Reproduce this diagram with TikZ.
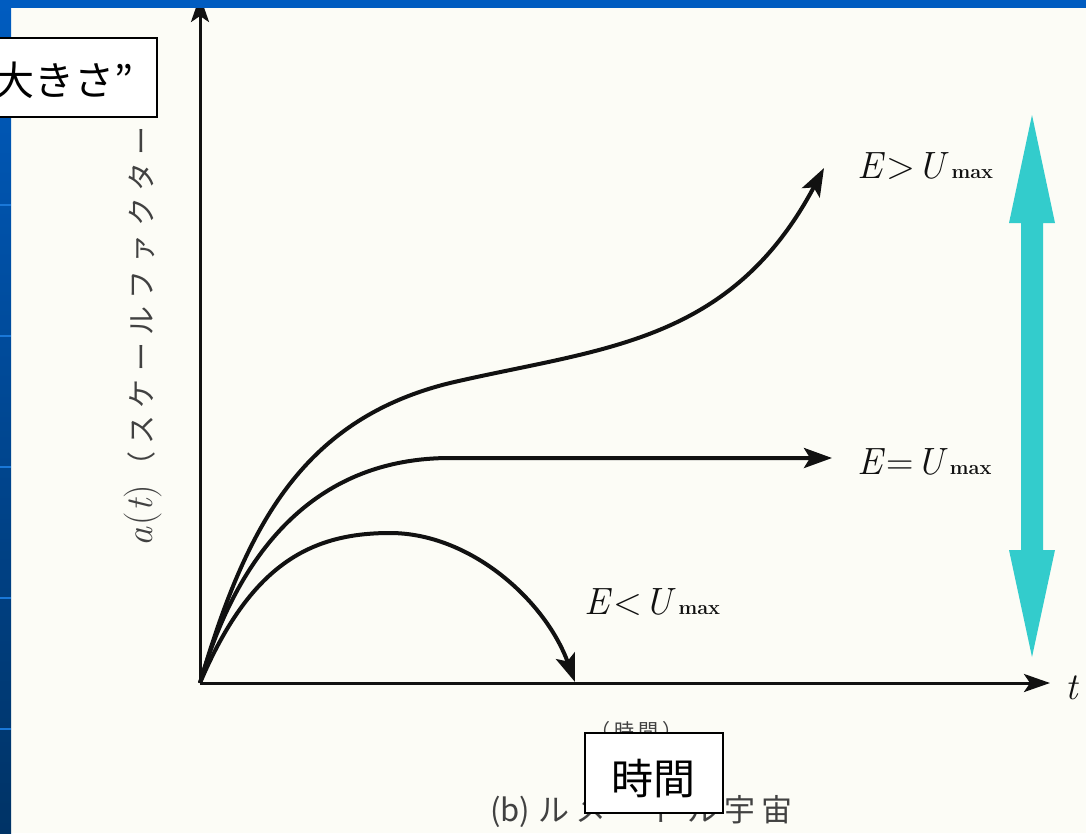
\documentclass[tikz,border=0pt]{standalone}
\usepackage{fontspec}
\newfontfamily\cjk{Noto Sans CJK JP}
\newfontfamily\book[LetterSpace=20]{Noto Sans CJK JP}
\newfontfamily\bookwide[LetterSpace=25]{Noto Sans CJK JP}
\usetikzlibrary{arrows.meta}
\definecolor{paper}{HTML}{FCFCF6}
\definecolor{slideblue}{HTML}{005CC0}
\definecolor{slidedark}{HTML}{003366}
\definecolor{slideline}{HTML}{1A78D8}
\definecolor{cyanarrow}{HTML}{33CCCC}
\definecolor{ink}{HTML}{111111}
\newcommand{\umax}{\textit{U}\kern2pt{\fontsize{20}{22}\selectfont\bfseries max}}
\tikzset{
  axis/.style={draw=ink, line width=3pt, -{Stealth[length=26pt,width=18pt,inset=6pt]}},
  curve/.style={draw=ink, line width=4pt, -{Stealth[length=28pt,width=20pt,inset=6pt]}},
  mathlbl/.style={text=ink, font=\rmfamily\fontsize{38}{42}\selectfont, inner sep=0pt},
  booklbl/.style={text=ink!80, font=\book\fontsize{28}{32}\selectfont, inner sep=0pt},
  slidebox/.style={draw=black, line width=2pt, fill=white, inner sep=0pt, font=\cjk\fontsize{42}{46}\selectfont}
}
\begin{document}
\begin{tikzpicture}[x=1pt,y=-1pt]
\useasboundingbox (0,0) rectangle (1086,833);
\fill[paper] (0,0) rectangle (1086,833);

% coordinates
\coordinate (O) at (200,683);
\coordinate (xend) at (1050,683);
\coordinate (yend) at (200,-4);
\coordinate (tipG) at (824,168);
\coordinate (tipE) at (832,458);
\coordinate (tipL) at (575,682);

% axes
\draw[axis] (O) -- (xend);
\draw[axis] (O) -- (yend);
\node[mathlbl] (tlbl) at (1072,688) {\textit{t}};

% curves
\draw[curve] (O) .. controls (245,530) and (300,420) .. (450,383)
  .. controls (600,348) and (730,345) .. (tipG);
\draw[curve] (O) .. controls (240,545) and (320,458) .. (450,458) -- (tipE);
\draw[curve] (O) .. controls (250,565) and (310,533) .. (390,533)
  .. controls (470,533) and (545,600) .. (tipL);

% labels
\node[mathlbl, anchor=west] (lblG) at (857,166) {\textit{E}\kern2pt>\kern2pt\umax};
\node[mathlbl, anchor=west] (lblE) at (857,462) {\textit{E}\kern2pt=\kern2pt\umax};
\node[mathlbl, anchor=west] (lblL) at (584,602) {\textit{E}\kern2pt<\kern2pt\umax};

% y-axis label
\node[booklbl, font=\bookwide\fontsize{29}{32}\selectfont, rotate=90, anchor=west] (ylbl) at (143,547)
  {{\rmfamily\fontsize{38}{40}\selectfont\itshape a\kern2pt\upshape(\kern1pt\itshape t\kern1pt\upshape)}\kern4pt（スケールファクター};

% x-axis label and caption
\node[booklbl, font=\book\fontsize{20}{24}\selectfont, anchor=west] (xlbl) at (590,731) {（時間）};
\node[booklbl, font=\book\fontsize{31}{34}\selectfont, anchor=west] (caption) at (490,812) {{\cjk(b)}\kern8pt ルメートル宇宙};

% cyan double arrow
\fill[cyanarrow] (1032,115) -- (1055,223) -- (1043,223) -- (1043,550) -- (1055,550)
  -- (1032,657) -- (1009,550) -- (1021,550) -- (1021,223) -- (1009,223) -- cycle;

% slide frame
\shade[top color=slideblue, bottom color=slidedark] (0,0) rectangle (11,833);
\fill[slideblue] (0,0) rectangle (1086,8);
\foreach \yy in {205,336,467,598,729} \fill[slideline] (0,\yy-1) rectangle (11,\yy+1);

% slide boxes
\node[slidebox, minimum width=138pt, minimum height=80pt] (boxT) at (654,773) {};
\node[font=\cjk\fontsize{42}{46}\selectfont, inner sep=0pt] (boxTtext) at (653,779) {時間};
\node[slidebox, minimum width=180pt, minimum height=79pt, anchor=east] (boxA) at (158,77.5) {};
\node[font=\cjk\fontsize{40}{44}\selectfont, anchor=east, inner sep=0pt] (boxAtext) at (134,80) {大きさ”};
\end{tikzpicture}
\end{document}
